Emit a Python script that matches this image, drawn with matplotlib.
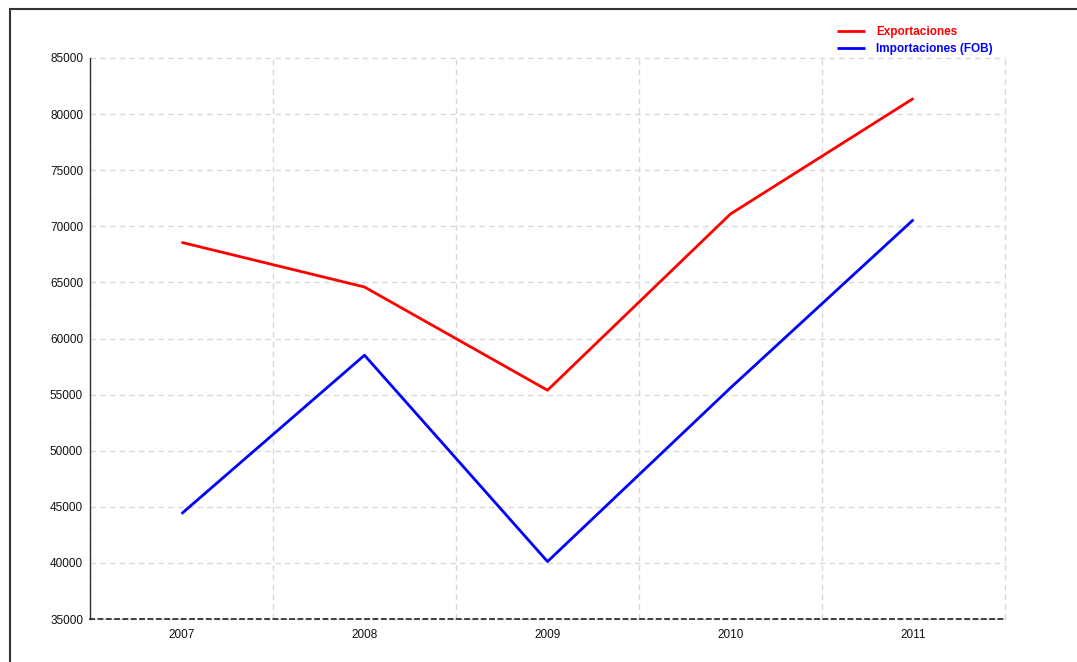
import matplotlib.pyplot as plt
import matplotlib.patches as mpatches

# ── Data ──────────────────────────────────────────────────────────────────────
YEARS = ["2007", "2008", "2009", "2010", "2011"]
EXPORTACIONES = [68570, 64590, 55390, 71100, 81400]
IMPORTACIONES = [44380, 58510, 40120, 55600, 70600]

Y_TICKS = list(range(35000, 85001, 5000))

plt.rcParams["font.family"] = ["Liberation Sans", "DejaVu Sans"]

fig = plt.figure(figsize=(10.77, 6.62), dpi=100)
ax = fig.add_axes([90 / 1077, 43 / 662, 915 / 1077, 561 / 662])

x = list(range(len(YEARS)))
ax.plot(x, EXPORTACIONES, color="#ff0000", lw=2.0, label="Exportaciones",
        solid_capstyle="butt")
ax.plot(x, IMPORTACIONES, color="#0000ff", lw=2.0, label="Importaciones (FOB)",
        solid_capstyle="butt")

# ── Axes styling ──────────────────────────────────────────────────────────────
ax.set_xlim(-0.5, len(YEARS) - 0.5)
ax.set_ylim(Y_TICKS[0], Y_TICKS[-1])
ax.set_xticks(x)
ax.set_xticklabels(YEARS)
ax.set_xticks([i - 0.5 for i in range(len(YEARS) + 1)], minor=True)
ax.set_yticks(Y_TICKS)
ax.set_yticklabels([str(v) for v in Y_TICKS])
ax.tick_params(axis="both", which="both", length=0, labelsize=8.5, colors="#111111")
ax.tick_params(axis="x", pad=7)
ax.tick_params(axis="y", pad=5)

ax.grid(axis="y", which="major", color="#d8d8d8", ls=(0, (4, 3)), lw=1)
ax.grid(axis="x", which="minor", color="#d8d8d8", ls=(0, (4, 3)), lw=1)
ax.grid(axis="x", which="major", visible=False)
# keep the edge grid lines (top / right) fully visible
for t in ax.yaxis.get_major_ticks() + ax.xaxis.get_minor_ticks():
    t.gridline.set_clip_on(False)

ax.spines["top"].set_visible(False)
ax.spines["right"].set_visible(False)
ax.spines["left"].set_color("#333333")
ax.spines["left"].set_linewidth(1.0)
ax.spines["left"].set_zorder(3)
ax.spines["bottom"].set_color("#222222")
ax.spines["bottom"].set_linewidth(1.2)
ax.spines["bottom"].set_linestyle((0, (2.5, 2.5)))
ax.spines["bottom"].set_zorder(3)

# ── Legend ────────────────────────────────────────────────────────────────────
ax.legend(
    loc="upper left", bbox_to_anchor=(837 / 1077, 1 - 26 / 662),
    bbox_transform=fig.transFigure, frameon=False,
    prop={"size": 8.5, "weight": "bold"}, labelcolor="linecolor",
    handlelength=2.4, handletextpad=0.9, labelspacing=0.45,
    borderaxespad=0, borderpad=0,
)

# ── Outer frame ───────────────────────────────────────────────────────────────
fig.add_artist(mpatches.Rectangle(
    (10 / 1077, -0.1), 1.2, 1 - 9 / 662 + 0.1, transform=fig.transFigure,
    fill=False, ec="#333333", lw=1.5,
))

fig.savefig("out.png", dpi=100, facecolor="white")
